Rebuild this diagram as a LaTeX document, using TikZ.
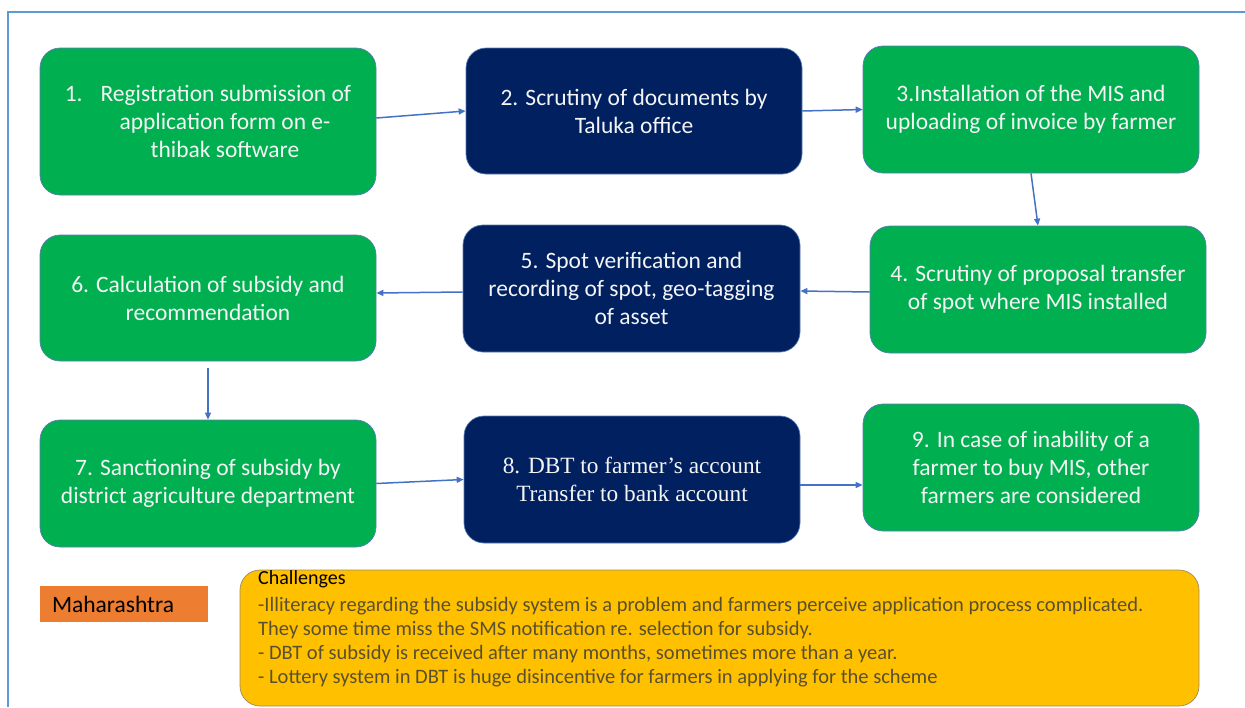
\documentclass[tikz,border=0pt]{standalone}
\usepackage{fontspec}
\setmainfont{Carlito}
\newfontfamily\tnr{Liberation Serif}
\usetikzlibrary{arrows.meta}
\definecolor{stepgreen}{HTML}{00B050}
\definecolor{stepnavy}{HTML}{002060}
\definecolor{edgeblue}{HTML}{4472C4}
\definecolor{frameblue}{HTML}{5B9BD5}
\definecolor{boxline}{HTML}{5A7DB5}
\definecolor{orangebox}{HTML}{ED7D31}
\definecolor{yellowbox}{HTML}{FFC000}
\definecolor{yellowline}{HTML}{9C8C5A}
\definecolor{softwhite}{HTML}{F4F4F4}
\definecolor{challtext}{HTML}{5A5030}
\begin{document}
\begin{tikzpicture}[x=1pt,y=-1pt,
  stepbox/.style={rectangle, rounded corners=20pt, draw=boxline, line width=0.7pt,
    minimum width=336pt, minimum height=127pt, align=center, text=softwhite,
    font=\fontsize{23.5}{28}\selectfont, inner sep=0pt},
  greenbox/.style={stepbox, fill=stepgreen},
  navybox/.style={stepbox, fill=stepnavy},
  arr/.style={draw=edgeblue, line width=1.5pt, -{Triangle[length=7pt,width=6pt]}}]
\useasboundingbox (0,0) rectangle (1245,707);
\fill[white] (0,0) rectangle (1245,707);
% frame
\draw[frameblue, line width=2.5pt] (8,707) -- (8,12) -- (1245,12);

\node[greenbox, minimum height=147pt] (n1) at (208,121.5)
  {1.\hspace{18pt}Registration submission of\\ \hspace*{34pt}application form on e-\\ \hspace*{34pt}thibak software};
\node[navybox, minimum height=126pt] (n2) at (634,111) {2. Scrutiny of documents by\\ Taluka office};
\node[greenbox] (n3) at (1031,109.5) {3.Installation of the MIS and\\ uploading of invoice by farmer};
\node[greenbox] (n4) at (1038,289.5) {4. Scrutiny of proposal transfer\\ of spot where MIS installed};
\node[navybox, minimum width=337pt] (n5) at (631.5,288.5) {5. Spot verification and\\ recording of spot, geo-tagging\\ of asset};
\node[greenbox, minimum height=126pt] (n6) at (208,298) {6. Calculation of subsidy and\\ recommendation};
\node[greenbox] (n7) at (208,483.5) {7. Sanctioning of subsidy by\\ district agriculture department};
\node[navybox, font=\tnr\fontsize{23.3}{27.5}\selectfont] (n8) at (632,479.5) {8. DBT to farmer’s account\\ Transfer to bank account};
\node[greenbox] (n9) at (1031,467.5) {9. In case of inability of a\\ farmer to buy MIS, other\\ farmers are considered};

\draw[arr] ([yshift=3.5pt]n1.east) -- (n2.west);
\draw[arr] (n2.east) -- (n3.west);
\draw[arr] (n3.south) -- (n4.north);
\draw[arr] ([yshift=-2.5pt]n4.west) -- ([yshift=-2.5pt]n5.east);
\draw[arr] ([yshift=-3.5pt]n5.west) -- ([yshift=5pt]n6.east);
\draw[arr] ([yshift=-7pt]n6.south) -- (n7.north);
\draw[arr] (n7.east) -- (n8.west);
\draw[arr] ([yshift=-5.5pt]n8.east) -- ([yshift=-17.5pt]n9.west);

\node[rectangle, fill=orangebox, minimum width=168pt, minimum height=36pt, text width=144pt,
  inner xsep=12pt, inner ysep=0pt, align=left, font=\fontsize{23.5}{26}\selectfont] (mh) at (124,604) {Maharashtra};

\node[rectangle, rounded corners=20pt, fill=yellowbox, draw=yellowline, line width=0.7pt,
  minimum width=959pt, minimum height=136pt] (ch) at (719.5,638) {};
\node[anchor=base west, inner sep=0pt, align=left, font=\fontsize{20}{24}\selectfont] (cht) at (258,584)
  {Challenges};
\node[anchor=north west, inner sep=0pt, align=left, text=challtext, font=\fontsize{20.5}{24}\selectfont] (chb) at (258,597)
  {-Illiteracy regarding the subsidy system is a problem and farmers perceive application process complicated.\\
   They some time miss the SMS notification re. selection for subsidy.\\
   - DBT of subsidy is received after many months, sometimes more than a year.\\
   - Lottery system in DBT is huge disincentive for farmers in applying for the scheme};
\end{tikzpicture}
\end{document}
